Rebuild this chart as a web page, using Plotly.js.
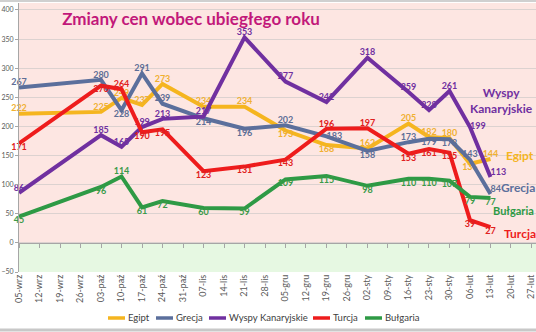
<!DOCTYPE html>
<html>
<head>
<meta charset="utf-8">
<script src="https://cdn.plot.ly/plotly-3.0.1.min.js"></script>
<style>html,body{margin:0;padding:0;background:#fff;overflow:hidden}#chart{width:536px;height:332px}</style>
</head>
<body>
<div id="chart"></div>
<script>
// Weekly axis categories
const weeks = ['05-wrz','12-wrz','19-wrz','26-wrz','03-paź','10-paź','17-paź','24-paź','31-paź','07-lis','14-lis','21-lis','28-lis','05-gru','12-gru','19-gru','26-gru','02-sty','09-sty','16-sty','23-sty','30-sty','06-lut','13-lut','20-lut','27-lut'];
// Dates with observations
const dates = ['05-wrz','03-paź','10-paź','17-paź','24-paź','07-lis','21-lis','05-gru','19-gru','02-sty','16-sty','23-sty','30-sty','06-lut','13-lut'];
const egipt    = [222,225,249,237,273,234,234,193,168,162,205,182,180,136,144];
const grecja   = [267,280,228,291,239,214,196,202,183,158,173,179,178,143,84];
const wyspy    = [86,185,165,199,213,217,353,277,242,318,259,228,261,199,113];
const turcja   = [171,270,264,190,195,123,131,143,196,197,153,161,155,39,27];
const bulgaria = [45,96,114,61,72,60,59,109,115,98,110,110,107,79,77];
const names = ['Egipt','Grecja','Wyspy Kanaryjskie','Turcja','Bułgaria'];

// label placement (style)
const T='top center', B='bottom center', MR='middle right', TR='top right';
const egPos = [T,T,T,T,T,T,T,B,B,T,T,T,T,B,T];
const grPos = [T,T,B,T,T,B,B,T,MR,B,T,B,B,T,TR];
const wyPos = [T,T,T,T,T,T,T,T,T,T,T,T,T,MR,TR];
const tuPos = [B,B,T,B,B,B,B,B,T,T,B,B,B,B,B];
const buPos = [B,B,T,B,B,B,B,B,B,B,B,B,B,B,B];

const lineCol = ['#F5B51F','#5B6F9C','#7030A0','#EE1C1C','#2E9A45'];
const txtCol  = ['#F0B030','#5E6E96','#7030A0','#E02020','#3A9A48'];
const series = [egipt, grecja, wyspy, turcja, bulgaria];
const poss = [egPos, grPos, wyPos, tuPos, buPos];
const FONT = 'Lato, "Open Sans", sans-serif';

const traces = series.map((s,i)=>({
  type:'scatter', mode:'lines+text', name:names[i],
  x:dates, y:s, text:s.map(String), textposition:poss[i],
  textfont:{family:FONT, size:9, color:txtCol[i], weight:'bold'},
  line:{color:lineCol[i], width:4}, cliponaxis:false, hoverinfo:'skip'
}));
// helper trace for the axis drawn at zero
traces.push({type:'scatter', mode:'lines', x:weeks, y:weeks.map(()=>null), xaxis:'x2', showlegend:false, hoverinfo:'skip'});

const last = a => a[a.length-1];
const nameLab = (txt, i, val, xs, ys, anchor, size) => ({
  text:txt, x:'13-lut', y:val, xref:'x', yref:'y', xanchor:anchor, yanchor:'middle',
  xshift:xs, yshift:ys, showarrow:false, align:'center',
  font:{family:FONT, size:size || 12, color:lineCol[i], weight:'bold'}
});

// page geometry
const L=19, PW=517, PT=3, PH=269;
const px2x = p => (p-L)/PW;
const py2y = p => (PT+PH-p)/PH;

// custom legend layout (pixel positions of each entry's line start)
const legStart = [108, 156, 209, 313, 365];
const legY = py2y(318);
const legShapes = legStart.map((p,i)=>({type:'line', xref:'paper', yref:'paper', x0:px2x(p), x1:px2x(p+17), y0:legY, y1:legY, line:{color:lineCol[i], width:3.5}}));
const legText = legStart.map((p,i)=>({text:names[i], xref:'paper', yref:'paper', x:px2x(p+17.5), y:legY, xanchor:'left', yanchor:'middle', showarrow:false, font:{family:FONT, size:9.5, color:'#404040'}}));

const yr = [-50, 412];
const layout = {
  width:536, height:332,
  margin:{l:L, r:0, t:PT, b:332-PT-PH},
  paper_bgcolor:'#ffffff', plot_bgcolor:'rgba(0,0,0,0)',
  showlegend:false,
  title:{text:'Zmiany cen wobec ubiegłego roku', x:191/536, xanchor:'center', y:1-19/332, yanchor:'middle',
         xref:'container', yref:'container',
         font:{family:FONT, size:17, color:'#C2187A', weight:'bold'}},
  xaxis:{type:'category', categoryorder:'array', categoryarray:weeks, range:[0,25.22],
         tickmode:'array', tickvals:weeks, ticktext:weeks, tickangle:-90,
         tickfont:{family:FONT, size:9, color:'#595959'}, showgrid:false, showline:false, ticks:'', zeroline:false, fixedrange:true},
  xaxis2:{type:'category', categoryorder:'array', categoryarray:weeks, range:[0,25.22], overlaying:'x',
          anchor:'free', position:(0-yr[0])/(yr[1]-yr[0]), side:'bottom',
          showline:true, linecolor:'#A6A6A6', linewidth:1, ticks:'outside', ticklen:4, tickcolor:'#A6A6A6',
          tickmode:'array', tickvals:weeks, showticklabels:false, showgrid:false, zeroline:false},
  yaxis:{range:yr, tickmode:'linear', tick0:-50, dtick:50, showgrid:true, gridcolor:'#DCD2D0', gridwidth:1,
         zeroline:false, showline:true, linecolor:'#A6A6A6', ticks:'outside', ticklen:3, tickcolor:'#A6A6A6',
         tickfont:{family:FONT, size:7, color:'#595959'}, fixedrange:true},
  shapes:[
    {type:'rect', xref:'paper', yref:'y', x0:0, x1:1, y0:0, y1:yr[1], fillcolor:'#FDE6E2', line:{width:0}, layer:'below'},
    {type:'rect', xref:'paper', yref:'y', x0:0, x1:1, y0:yr[0], y1:0, fillcolor:'#E6F8E2', line:{width:0}, layer:'below'},
    {type:'line', xref:'paper', yref:'paper', x0:px2x(0), x1:1, y0:py2y(1), y1:py2y(1), line:{color:'#D0D0D0', width:2}},
    {type:'line', xref:'paper', yref:'paper', x0:px2x(0), x1:1, y0:py2y(330), y1:py2y(330), line:{color:'#C8C8C8', width:3}}
  ].concat(legShapes),
  annotations:[
    nameLab('Egipt', 0, last(egipt), 14, 4, 'left'),
    nameLab('Grecja', 1, last(grecja), 9, 6, 'left'),
    nameLab('Wyspy<br>Kanaryjskie', 2, last(wyspy), 11.5, 77, 'center'),
    nameLab('Turcja', 3, last(turcja), 12, -6, 'left'),
    nameLab('Bułgaria', 4, last(bulgaria), 1, -12, 'left', 11)
  ].concat(legText)
};
Plotly.newPlot('chart', traces, layout, {displayModeBar:false, staticPlot:true});
</script>
</body>
</html>
